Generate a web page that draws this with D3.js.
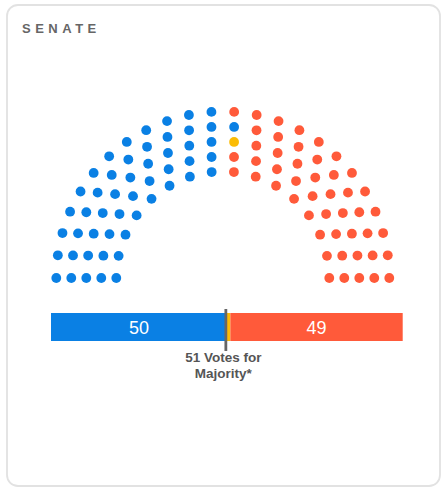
<!DOCTYPE html>
<html>
<head>
<meta charset="utf-8">
<script src="https://cdn.jsdelivr.net/npm/d3@7"></script>
<style>
  html, body { margin: 0; padding: 0; background: #fff; }
  svg { display: block; font-family: "Liberation Sans", Arial, sans-serif; }
</style>
</head>
<body>
<svg id="chart"></svg>
<script>
const width = 446;
const height = 496;

// Party data
const partyKeys = ["D", "I", "R"];
const partyNames = ["Democrats", "Independent", "Republicans"];
const partyVotes = [50, 1, 49];
const barLabels = ["50", "", "49"];
const partyColors = ["#0a80e4", "#fbbc05", "#ff5a3a"];

// Seat colours, in seat order (left to right), as runs of [party, count]
const seatRuns = [["D", 50], ["R", 1], ["D", 1], ["I", 1], ["R", 47]];

// Seats per row, inner to outer
const seatsPerRow = [16, 18, 20, 22, 24];

const totalSeats = 100;
const majority = 51;
const title = "SENATE";
const majorityLines = ["51 Votes for", "Majority*"];

const svg = d3.select("#chart")
    .attr("width", width)
    .attr("height", height);

// Card
svg.append("rect")
    .attr("x", 7)
    .attr("y", 5)
    .attr("width", 433)
    .attr("height", 481)
    .attr("rx", 11)
    .attr("fill", "#fff")
    .attr("stroke", "#e2e2e2")
    .attr("stroke-width", 1.8);

// Title
svg.append("text")
    .attr("x", 22)
    .attr("y", 33)
    .attr("fill", "#666")
    .attr("font-size", 13)
    .attr("font-weight", "bold")
    .attr("letter-spacing", "4.5px")
    .text(title);

const color = d3.scaleOrdinal().domain(partyKeys).range(partyColors);

// Hemicycle
const cx = 222.8, cy = 278;
const radius = d3.scaleLinear()
    .domain([0, seatsPerRow.length - 1])
    .range([106.5, 166.5]);

let seats = [];
seatsPerRow.forEach((n, row) => {
    const angle = d3.scaleLinear().domain([0, n - 1]).range([-Math.PI / 2, Math.PI / 2]);
    d3.range(n).forEach(i => {
        const a = angle(i);
        const [x, y] = d3.pointRadial(a, radius(row));
        seats.push({ a, row, x: cx + x, y: cy + y });
    });
});
seats.sort((p, q) => p.a - q.a || q.row - p.row);

// expand runs into one party per seat
const seatParty = seatRuns.flatMap(([p, n]) => d3.range(n).map(() => p));
seats.forEach((s, i) => s.party = seatParty[i]);

svg.append("g")
    .selectAll("circle")
    .data(seats)
    .join("circle")
    .attr("cx", d => d.x)
    .attr("cy", d => d.y)
    .attr("r", 4.9)
    .attr("fill", d => color(d.party));

// Vote bar
const x = d3.scaleLinear().domain([0, totalSeats]).range([51, 402.7]);
const barY = 313, barH = 28;

const starts = d3.cumsum([0, ...partyVotes]);
const segments = partyKeys.map((k, i) => ({
    key: k, name: partyNames[i], value: partyVotes[i],
    start: starts[i], end: starts[i] + partyVotes[i], label: barLabels[i]
}));

const bar = svg.append("g");
bar.selectAll("rect")
    .data(segments)
    .join("rect")
    .attr("x", d => x(d.start))
    .attr("y", barY)
    .attr("width", d => x(d.end) - x(d.start))
    .attr("height", barH)
    .attr("fill", d => color(d.key));

bar.selectAll("text")
    .data(segments.filter(d => d.label))
    .join("text")
    .attr("x", d => (x(d.start) + x(d.end)) / 2)
    .attr("y", barY + 20.5)
    .attr("text-anchor", "middle")
    .attr("fill", "#fff")
    .attr("font-size", 18)
    .text(d => d.label);

// Majority marker
const mx = x(majority - 1) - 1;
svg.append("line")
    .attr("x1", mx).attr("x2", mx)
    .attr("y1", 309).attr("y2", 351)
    .attr("stroke", "#666")
    .attr("stroke-width", 2.8);

svg.append("text")
    .attr("y", 362)
    .attr("text-anchor", "middle")
    .attr("fill", "#555")
    .attr("font-size", 13.5)
    .attr("font-weight", "bold")
    .selectAll("tspan")
    .data(majorityLines)
    .join("tspan")
    .attr("x", mx - 2.5)
    .attr("dy", (d, i) => i ? 15.5 : 0)
    .text(d => d);
</script>
</body>
</html>
